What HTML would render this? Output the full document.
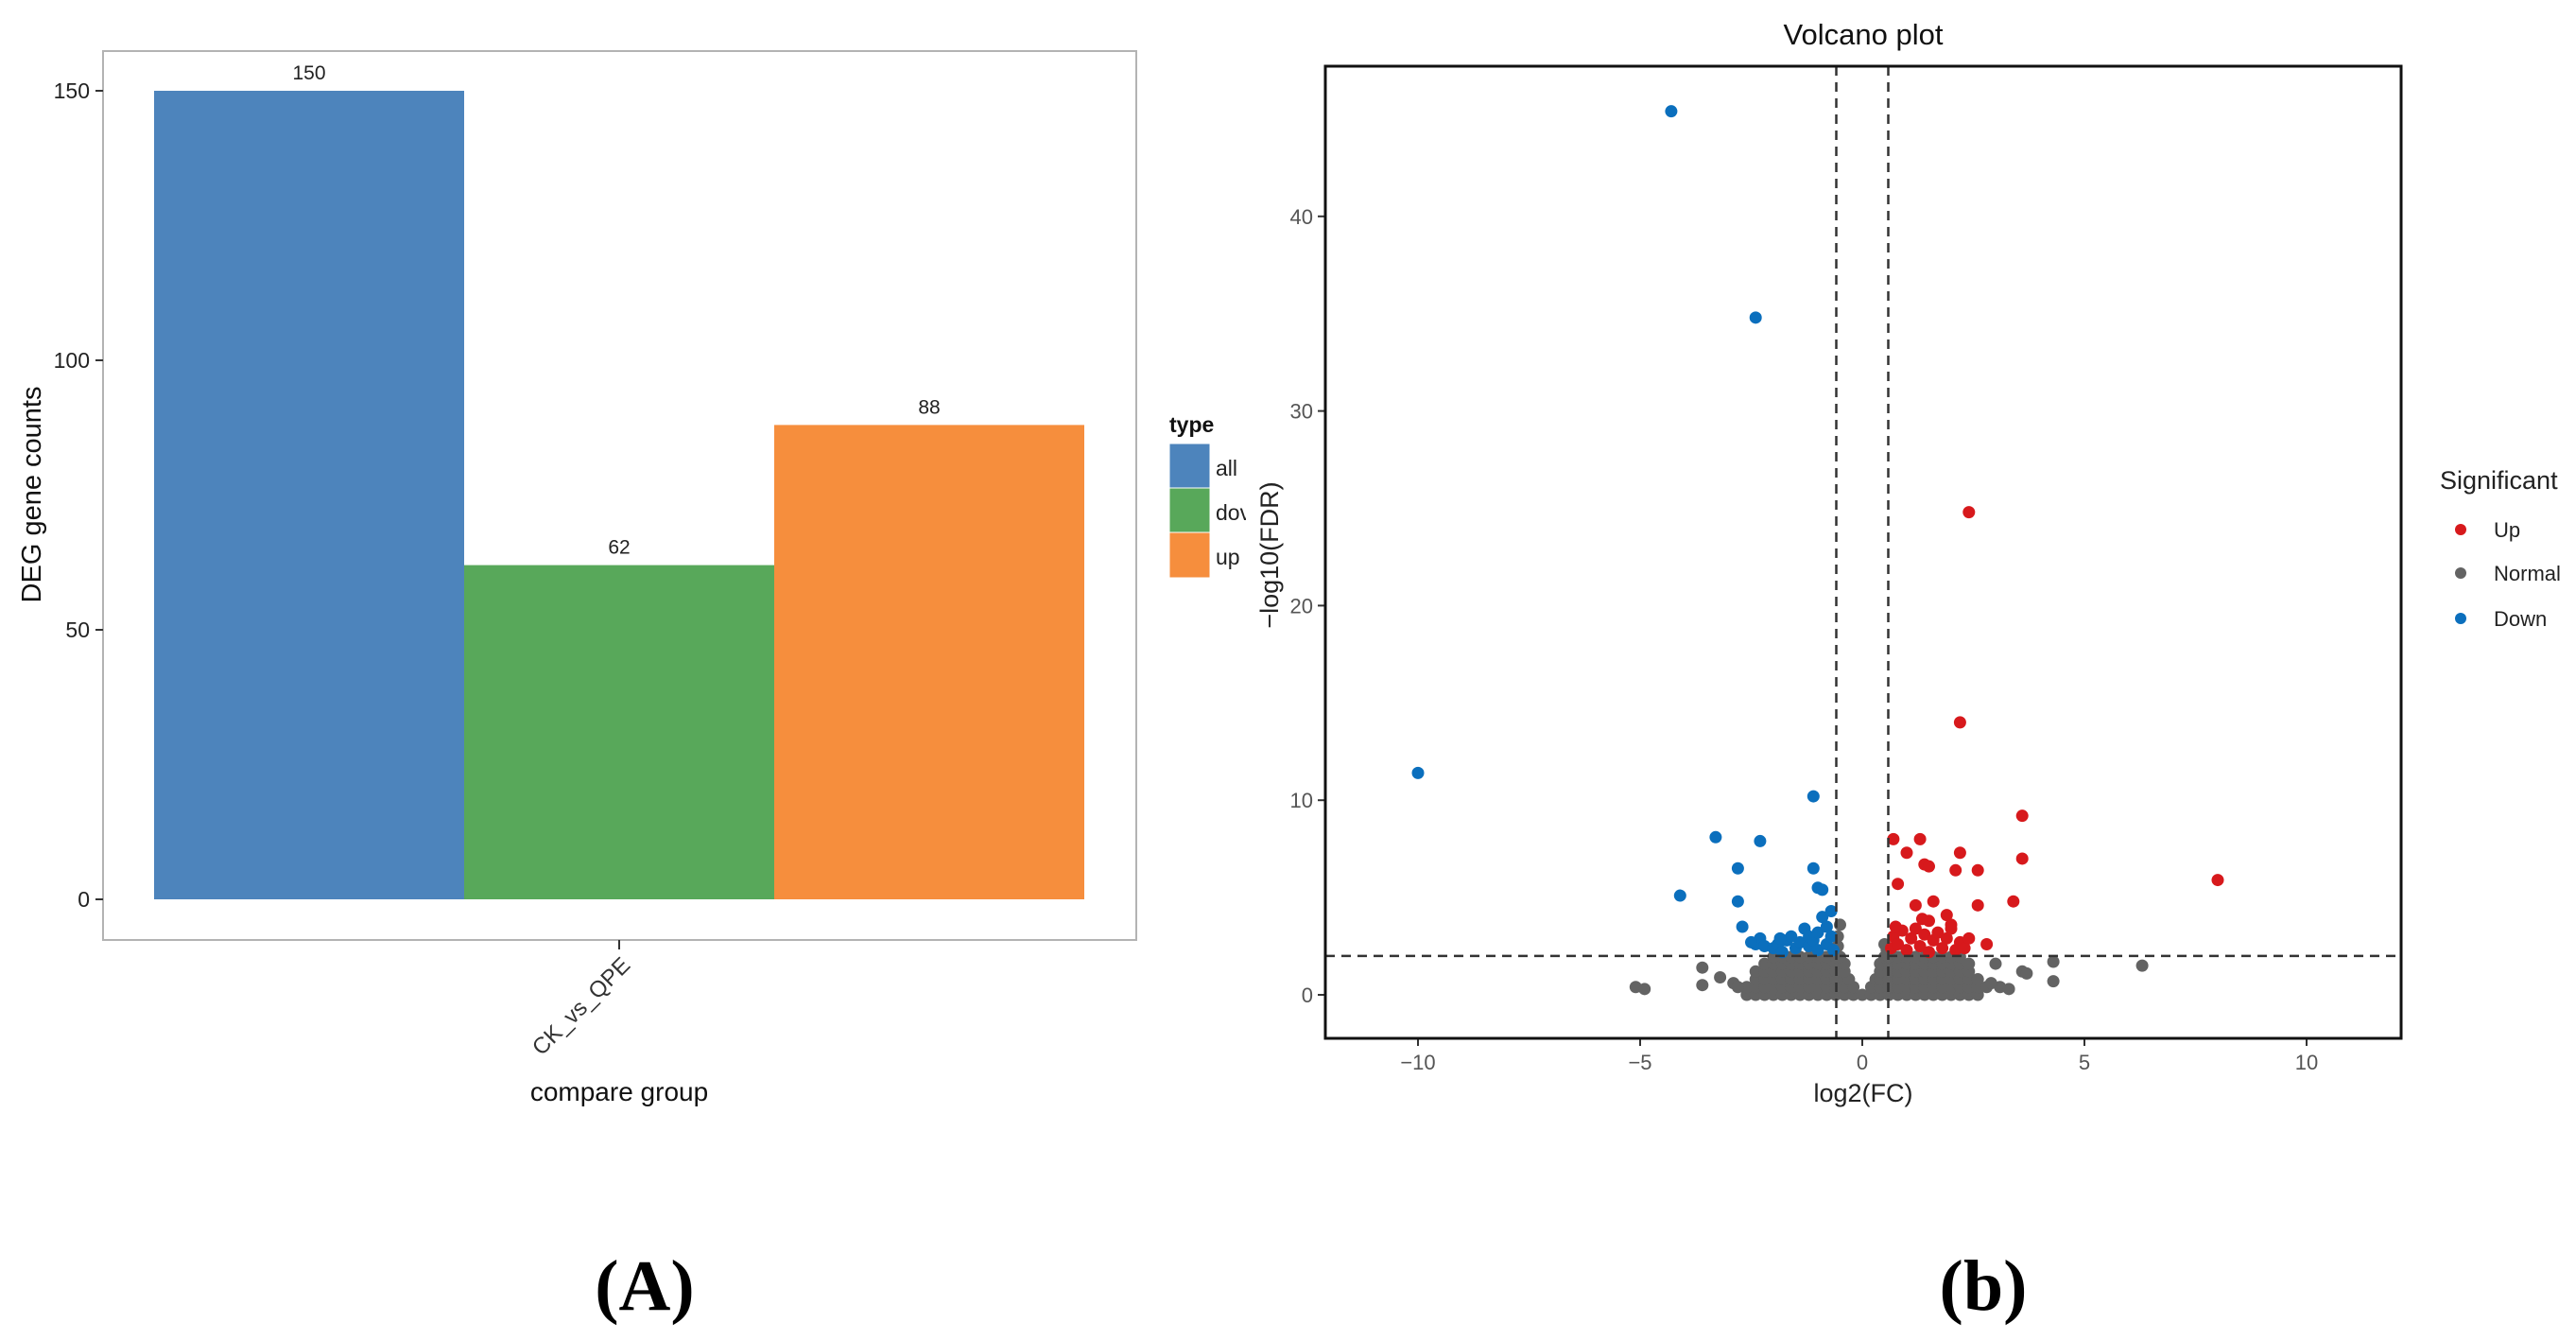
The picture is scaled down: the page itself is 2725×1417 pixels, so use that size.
<!DOCTYPE html>
<html><head><meta charset="utf-8">
<style>
html,body{margin:0;padding:0;background:#fff;}
svg{display:block;font-family:"Liberation Sans",sans-serif;}
</style></head>
<body>
<svg id="fig" width="2725" height="1417" viewBox="0 0 2725 1417" xmlns="http://www.w3.org/2000/svg">
<g id="barPanel">
  <rect x="109" y="54" width="1093" height="940" fill="#fff" stroke="#b3b3b3" stroke-width="2"/>
  <g id="barAxis"></g>
  <g id="bars"></g>
  <line x1="655" y1="994" x2="655" y2="1004" stroke="#333" stroke-width="2"/>
  <text x="0" y="0" transform="translate(668,1022) rotate(-45)" text-anchor="end" font-size="24" fill="#333">CK_vs_QPE</text>
  <text x="655" y="1164" text-anchor="middle" font-size="28" fill="#111">compare group</text>
  <text transform="translate(43,523) rotate(-90)" text-anchor="middle" font-size="29" fill="#111">DEG gene counts</text>
  <g>
    <text x="1237" y="457" font-size="23" font-weight="bold" fill="#111">type</text>
    <rect x="1237" y="469" width="43" height="47" fill="#4d84bc" stroke="#fff"/>
    <rect x="1237" y="516" width="43" height="47" fill="#58a85a" stroke="#fff"/>
    <rect x="1237" y="563" width="43" height="48" fill="#f68e3d" stroke="#fff"/>
    <text x="1286" y="503" font-size="23" fill="#222">all</text>
    <text x="1286" y="550" font-size="23" fill="#222">dov</text>
    <text x="1286" y="597" font-size="23" fill="#222">up</text>
  </g>
  <text x="682" y="1385" text-anchor="middle" font-family="Liberation Serif,serif" font-weight="bold" font-size="76" fill="#000">(A)</text>
</g>
<rect x="1318" y="0" width="20" height="1417" fill="#fff"/>
<g id="volPanel">
  <text x="1971" y="47" text-anchor="middle" font-size="31" fill="#111">Volcano plot</text>
  <g id="volAxis"></g>
  <g id="volPts"></g>
  <g id="volLines"></g>
  <rect x="1402" y="70" width="1138" height="1028" fill="none" stroke="#111" stroke-width="3"/>
  <text x="1971" y="1165" text-anchor="middle" font-size="27" fill="#222">log2(FC)</text>
  <text transform="translate(1352,587) rotate(-90)" text-anchor="middle" font-size="27" fill="#222">−log10(FDR)</text>
  <g>
    <text x="2581" y="517" font-size="27" fill="#222">Significant</text>
    <circle cx="2603" cy="560" r="6" fill="#d7191c"/>
    <circle cx="2603" cy="606" r="6" fill="#636363"/>
    <circle cx="2603" cy="654" r="6" fill="#0b6fbd"/>
    <text x="2638" y="568" font-size="22" fill="#222">Up</text>
    <text x="2638" y="614" font-size="22" fill="#222">Normal</text>
    <text x="2638" y="662" font-size="22" fill="#222">Down</text>
  </g>
  <text x="2098" y="1385" text-anchor="middle" font-family="Liberation Serif,serif" font-weight="bold" font-size="76" fill="#000">(b)</text>
</g>
</svg>
<script>
const NS="http://www.w3.org/2000/svg";
// ---- bar chart data ----
const barTypes=["all","down","up"];
const barValues=[150,62,88];
const barColors=["#4d84bc","#58a85a","#f68e3d"];
const barTicks=[0,50,100,150];
// ---- volcano data ----
const xTicks=[-10,-5,0,5,10];
const yTicks=[0,10,20,30,40];
const fcThreshold=0.585;
const fdrThreshold=2;
const upX=[2.4,2.2,3.6,8.0,0.7,1.3,1.0,2.2,3.6,1.4,1.5,2.1,2.6,0.8,3.4,2.6,1.6,1.2,1.9,2.0,2.8,0.65,0.7,0.8,0.9,1.0,1.1,1.2,1.3,1.4,1.5,1.5,1.6,1.7,1.8,1.9,2.0,2.1,2.2,2.3,2.4,0.75,1.35];
const upY=[24.8,14.0,9.2,5.9,8.0,8.0,7.3,7.3,7.0,6.7,6.6,6.4,6.4,5.7,4.8,4.6,4.8,4.6,4.1,3.6,2.6,2.4,3.0,2.6,3.3,2.3,2.9,3.4,2.5,3.1,2.2,3.8,2.8,3.2,2.4,2.9,3.4,2.3,2.7,2.4,2.9,3.5,3.9];
const downX=[-4.3,-2.4,-10.0,-1.1,-3.3,-2.3,-2.8,-1.1,-4.1,-2.8,-1.0,-2.7,-0.9,-2.4,-2.3,-2.2,-2.0,-1.9,-1.8,-1.7,-1.6,-1.5,-1.4,-1.3,-1.2,-1.2,-1.1,-1.0,-1.0,-0.9,-0.8,-0.8,-0.7,-0.7,-0.65,-2.5,-1.85];
const downY=[45.4,34.8,11.4,10.2,8.1,7.9,6.5,6.5,5.1,4.8,5.5,3.5,5.4,2.6,2.9,2.5,2.4,2.6,2.2,2.8,3.0,2.4,2.7,3.4,2.5,3.0,2.8,3.2,2.3,4.0,3.5,2.6,4.3,3.0,2.3,2.7,2.9];
const normalRowY=[0,0.4,0.8,1.2,1.6,1.95];
const normalRowX=[
 [-2.6,-2.4,-2.2,-2.0,-1.8,-1.6,-1.4,-1.2,-1.0,-0.8,-0.6,-0.4,-0.2,0,0.2,0.4,0.6,0.8,1.0,1.2,1.4,1.6,1.8,2.0,2.2,2.4,2.6],
 [-2.6,-2.4,-2.2,-2.0,-1.8,-1.6,-1.4,-1.2,-1.0,-0.8,-0.6,-0.4,-0.2,0.2,0.4,0.6,0.8,1.0,1.2,1.4,1.6,1.8,2.0,2.2,2.4,2.6,2.8],
 [-2.4,-2.2,-2.0,-1.8,-1.6,-1.4,-1.2,-1.0,-0.8,-0.6,-0.4,-0.3,0.3,0.4,0.6,0.8,1.0,1.2,1.4,1.6,1.8,2.0,2.2,2.4,2.6],
 [-2.4,-2.2,-2.0,-1.8,-1.6,-1.4,-1.2,-1.0,-0.8,-0.6,-0.4,0.4,0.6,0.8,1.0,1.2,1.4,1.6,1.8,2.0,2.2,2.4],
 [-2.2,-2.0,-1.8,-1.6,-1.4,-1.2,-1.0,-0.8,-0.6,-0.4,0.4,0.6,0.8,1.0,1.2,1.4,1.6,1.8,2.0,2.2,2.4],
 [-2.0,-1.8,-1.6,-1.4,-1.2,-1.0,-0.8,-0.6,-0.5,0.5,0.6,0.8,1.0,1.2,1.4,1.6,1.8,2.0,2.2]
];
const normalExtraX=[-5.1,-4.9,-3.6,-3.6,-3.2,-2.9,-2.8,6.3,4.3,4.3,3.6,3.7,3.0,3.1,-0.55,-0.55,-0.5,0.55,0.5,2.9,3.3];
const normalExtraY=[0.4,0.3,1.4,0.5,0.9,0.6,0.4,1.5,1.7,0.7,1.2,1.1,1.6,0.4,2.5,3.0,3.6,2.3,2.6,0.6,0.3];

// ---- bar chart ----
const bY=v=>951-v*(951-96)/150;
const bx0=163,bw=(1147-163)/3;
const bAxis=document.getElementById('barAxis');
barTicks.forEach(t=>{
  const l=document.createElementNS(NS,'line');
  l.setAttribute('x1',101);l.setAttribute('x2',109);l.setAttribute('y1',bY(t));l.setAttribute('y2',bY(t));
  l.setAttribute('stroke','#333');l.setAttribute('stroke-width',2);
  
  
  bAxis.appendChild(l);
  const tx=document.createElementNS(NS,'text');
  tx.setAttribute('x',95);tx.setAttribute('y',bY(t)+8);tx.setAttribute('text-anchor','end');
  tx.setAttribute('font-size',23);tx.setAttribute('fill','#222');tx.textContent=t;
  
  
  bAxis.appendChild(tx);
});
const barsG=document.getElementById('bars');
barValues.forEach((v,i)=>{
  const r=document.createElementNS(NS,'rect');
  r.setAttribute('x',bx0+i*bw);r.setAttribute('width',bw);
  r.setAttribute('y',bY(v));r.setAttribute('height',bY(0)-bY(v));
  r.setAttribute('fill',barColors[i]);
  
  
  barsG.appendChild(r);
  const t=document.createElementNS(NS,'text');
  t.setAttribute('x',bx0+i*bw+bw/2);t.setAttribute('y',bY(v)-12);
  t.setAttribute('text-anchor','middle');t.setAttribute('font-size',21);t.setAttribute('fill','#222');
  t.textContent=v;
  
  
  barsG.appendChild(t);
});

// ---- volcano ----
const vx=v=>1970+v*47.0;
const vy=v=>1052-v*20.58;
const vAxis=document.getElementById('volAxis');
xTicks.forEach(t=>{
  const l=document.createElementNS(NS,'line');
  l.setAttribute('x1',vx(t));l.setAttribute('x2',vx(t));l.setAttribute('y1',1098);l.setAttribute('y2',1106);
  l.setAttribute('stroke','#333');l.setAttribute('stroke-width',2);
  
  
  vAxis.appendChild(l);
  const tx=document.createElementNS(NS,'text');
  tx.setAttribute('x',vx(t));tx.setAttribute('y',1131);tx.setAttribute('text-anchor','middle');
  tx.setAttribute('font-size',22);tx.setAttribute('fill','#555');tx.textContent=t<0?'−'+(-t):t;
  
  
  vAxis.appendChild(tx);
});
yTicks.forEach(t=>{
  const l=document.createElementNS(NS,'line');
  l.setAttribute('x1',1394);l.setAttribute('x2',1402);l.setAttribute('y1',vy(t));l.setAttribute('y2',vy(t));
  l.setAttribute('stroke','#333');l.setAttribute('stroke-width',2);
  
  
  vAxis.appendChild(l);
  const tx=document.createElementNS(NS,'text');
  tx.setAttribute('x',1389);tx.setAttribute('y',vy(t)+8);tx.setAttribute('text-anchor','end');
  tx.setAttribute('font-size',22);tx.setAttribute('fill','#555');tx.textContent=t;
  
  
  vAxis.appendChild(tx);
});
const pts=document.getElementById('volPts');
function dot(x,y,c,name){
  const d=document.createElementNS(NS,'circle');
  d.setAttribute('cx',vx(x));d.setAttribute('cy',vy(y));d.setAttribute('r',6.5);d.setAttribute('fill',c);
  
  
  pts.appendChild(d);
}
normalRowY.forEach((y,i)=>normalRowX[i].forEach(x=>dot(x,y,'#636363','point-normal')));
normalExtraX.forEach((x,i)=>dot(x,normalExtraY[i],'#636363','point-normal'));
downX.forEach((x,i)=>dot(x,downY[i],'#0b6fbd','point-down'));
upX.forEach((x,i)=>dot(x,upY[i],'#d7191c','point-up'));
const lines=document.getElementById('volLines');
[-fcThreshold,fcThreshold].forEach(v=>{
  const l=document.createElementNS(NS,'line');
  l.setAttribute('x1',vx(v));l.setAttribute('x2',vx(v));l.setAttribute('y1',70);l.setAttribute('y2',1098);
  l.setAttribute('stroke','#333');l.setAttribute('stroke-width',2.5);l.setAttribute('stroke-dasharray','10 7');
  
  
  lines.appendChild(l);
});
const h=document.createElementNS(NS,'line');
h.setAttribute('x1',1402);h.setAttribute('x2',2540);h.setAttribute('y1',vy(fdrThreshold));h.setAttribute('y2',vy(fdrThreshold));
h.setAttribute('stroke','#333');h.setAttribute('stroke-width',2.5);h.setAttribute('stroke-dasharray','10 7');


lines.appendChild(h);
</script>
</body></html>
